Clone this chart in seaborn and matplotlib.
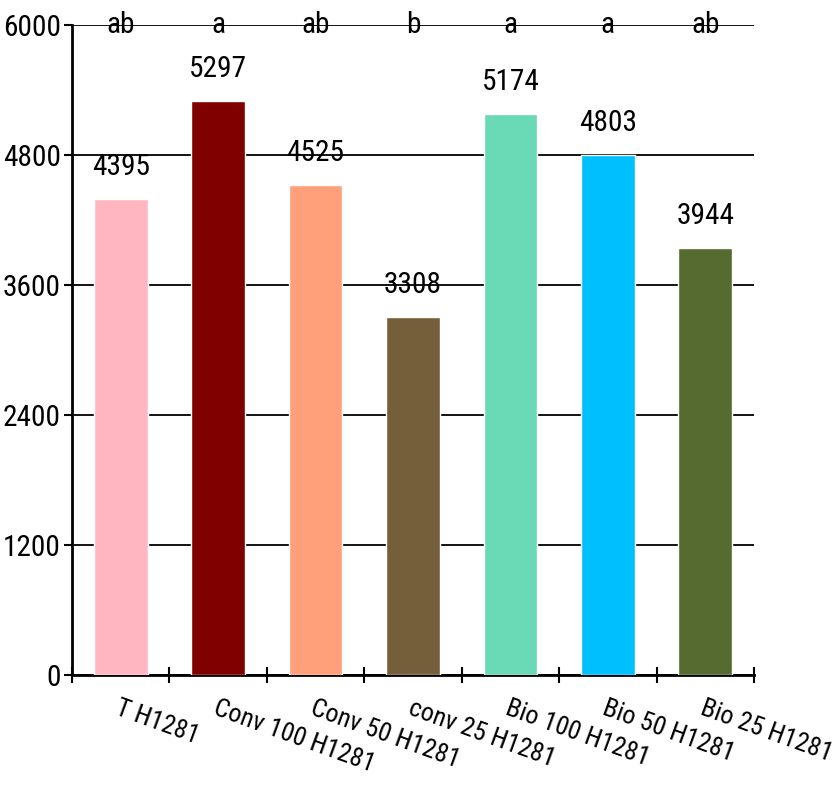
import matplotlib
matplotlib.use("Agg")
import matplotlib.pyplot as plt
from matplotlib import font_manager as fm
from matplotlib.textpath import TextToPath
import seaborn as sns
import pandas as pd
import numpy as np

categories = ["T H1281", "Conv 100 H1281", "Conv 50 H1281", "conv 25 H1281",
              "Bio 100 H1281", "Bio 50 H1281", "Bio 25 H1281"]
values = [4395, 5297, 4525, 3308, 5174, 4803, 3944]
letters = ["ab", "a", "ab", "b", "a", "a", "ab"]
colors = ["#FFB6C1", "#800000", "#FFA07A", "#745F3A", "#6AD9B5", "#00BFFF", "#556B2F"]
yticks = [0, 1200, 2400, 3600, 4800, 6000]

sns.set_theme(style="white")

# choose the narrowest-looking installed sans font (reference uses a very condensed face)
t2p = TextToPath()
ok_fam = ["dejavu sans", "liberation sans", "noto sans", "roboto", "open sans", "lato", "inter"]
best = None
target = 50.0 / 26.0
for f in fm.fontManager.ttflist:
    n = f.name.lower()
    if not any(n.startswith(k) for k in ok_fam):
        continue
    if "mono" in n or "cjk" in n or "display" in n or f.style != "normal":
        continue
    if f.weight not in (400, "normal", "regular"):
        continue
    try:
        p = fm.FontProperties(fname=f.fname, size=100)
        w, h, d = t2p.get_text_width_height_descent("6000", p, ismath=False)
    except Exception:
        continue
    r = w / h
    if best is None or abs(r - target) < abs(best[0] - target):
        best = (r, f.fname, w, h)

if best is not None:
    fname, w100, h100 = best[1], best[2], best[3]
else:
    fname = fm.findfont("DejaVu Sans")
    p = fm.FontProperties(fname=fname, size=100)
    w100, h100, _ = t2p.get_text_width_height_descent("6000", p, ismath=False)

px_per_pt = 100 / 72
fs_h = 25.0 / px_per_pt / (h100 / 100)
fs_w = 58.0 / px_per_pt / (w100 / 100)
FS = min(fs_h, fs_w)
fs_w_old = 54.0 / px_per_pt / (w100 / 100)
FSX = min(fs_h, fs_w_old) * 0.95

def fp(size=None):
    return fm.FontProperties(fname=fname, size=size or FS)

df = pd.DataFrame({"cat": categories, "val": values})

fig = plt.figure(figsize=(8.38, 7.99), dpi=100)
ax = fig.add_axes([72/838, 1-675/799, (754-72)/838, (675-25)/799])

sns.barplot(data=df, x="cat", y="val", hue="cat", palette=colors, legend=False,
            width=0.55, saturation=1, ax=ax, zorder=3)

ax.set_ylim(0, 6000)
ax.set_xlim(-0.5, len(categories) - 0.5)
ax.set_yticks(yticks)
ax.set_yticklabels([str(t) for t in yticks], color="black")
for lab in ax.get_yticklabels():
    lab.set_fontproperties(fp())
ax.yaxis.grid(True, color="black", linewidth=1.3, zorder=0)
ax.set_axisbelow(True)

ax.set_xticks(np.arange(-0.5, len(categories), 1.0))
ax.set_xticklabels([])
ax.set_xticks(np.arange(len(categories)), minor=True)
ax.set_xticklabels(categories, minor=True, rotation=-20, ha="left", va="top",
                   rotation_mode="anchor", color="black")
for lab in ax.get_xticklabels(minor=True):
    lab.set_fontproperties(fp(FSX))
ax.tick_params(axis="x", which="major", direction="inout", length=12, width=1.5,
               color="black", bottom=True)
ax.tick_params(axis="x", which="minor", length=0, pad=15)
ax.tick_params(axis="y", direction="out", length=6, width=1.5, color="black",
               left=True, pad=2)
ax.set_xlabel("")
ax.set_ylabel("")

for s in ["top", "right"]:
    ax.spines[s].set_visible(False)
for s in ["left", "bottom"]:
    ax.spines[s].set_color("black")
    ax.spines[s].set_linewidth(2)

for i, (v, l) in enumerate(zip(values, letters)):
    ax.annotate(str(v), (i, v), xytext=(0, 13), textcoords="offset points",
                ha="center", va="bottom", fontproperties=fp(), color="black")
    ax.text(i, 6000, l, ha="center", va="center", fontproperties=fp(), color="black")

fig.savefig("out.png", dpi=100)
